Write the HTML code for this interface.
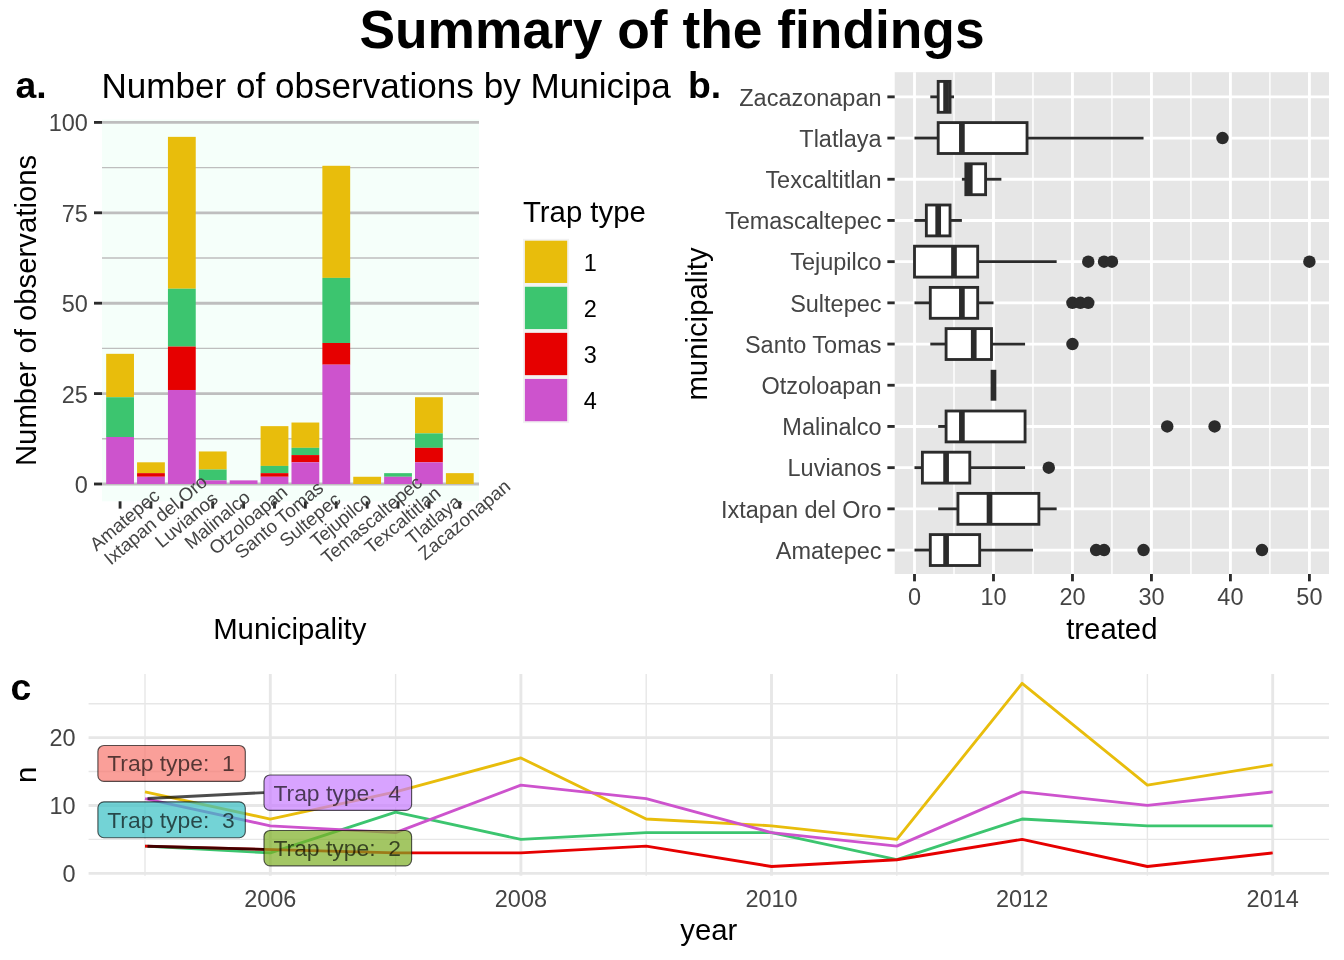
<!DOCTYPE html>
<html lang="en">
<head>
<meta charset="utf-8">
<title>Summary of the findings</title>
<style>
html,body{margin:0;padding:0;background:#fff;}
body{width:1344px;height:960px;overflow:hidden;}
svg{display:block;font-family:"Liberation Sans", Arial, Helvetica, sans-serif;will-change:transform;}
</style>
</head>
<body>
<svg width="1344" height="960" viewBox="0 0 1344 960">
<rect x="0" y="0" width="1344" height="960" fill="#FFFFFF"/>
<text x="672" y="48" font-size="53.33" fill="#000" text-anchor="middle" font-weight="bold">Summary of the findings</text>
<g id="panel-a">
<rect x="102" y="119.5" width="377" height="381.8" fill="#F5FFFA"/>
<line x1="102" y1="438.8" x2="479" y2="438.8" stroke="#BEBEBE" stroke-width="1.42"/>
<line x1="102" y1="348.4" x2="479" y2="348.4" stroke="#BEBEBE" stroke-width="1.42"/>
<line x1="102" y1="258" x2="479" y2="258" stroke="#BEBEBE" stroke-width="1.42"/>
<line x1="102" y1="167.6" x2="479" y2="167.6" stroke="#BEBEBE" stroke-width="1.42"/>
<line x1="102" y1="484" x2="479" y2="484" stroke="#BEBEBE" stroke-width="2.85"/>
<line x1="102" y1="393.6" x2="479" y2="393.6" stroke="#BEBEBE" stroke-width="2.85"/>
<line x1="102" y1="303.2" x2="479" y2="303.2" stroke="#BEBEBE" stroke-width="2.85"/>
<line x1="102" y1="212.8" x2="479" y2="212.8" stroke="#BEBEBE" stroke-width="2.85"/>
<line x1="102" y1="122.4" x2="479" y2="122.4" stroke="#BEBEBE" stroke-width="2.85"/>
<rect x="106.17" y="353.82" width="27.8" height="43.39" fill="#E8BD0C"/>
<rect x="106.17" y="397.22" width="27.8" height="39.78" fill="#3CC56F"/>
<rect x="106.17" y="436.99" width="27.8" height="47.01" fill="#CD53CD"/>
<rect x="137.06" y="462.3" width="27.8" height="10.85" fill="#E8BD0C"/>
<rect x="137.06" y="473.15" width="27.8" height="3.62" fill="#E60000"/>
<rect x="137.06" y="476.77" width="27.8" height="7.23" fill="#CD53CD"/>
<rect x="167.94" y="136.86" width="27.8" height="151.87" fill="#E8BD0C"/>
<rect x="167.94" y="288.74" width="27.8" height="57.86" fill="#3CC56F"/>
<rect x="167.94" y="346.59" width="27.8" height="43.39" fill="#E60000"/>
<rect x="167.94" y="389.98" width="27.8" height="94.02" fill="#CD53CD"/>
<rect x="198.83" y="451.46" width="27.8" height="18.08" fill="#E8BD0C"/>
<rect x="198.83" y="469.54" width="27.8" height="10.85" fill="#3CC56F"/>
<rect x="198.83" y="480.38" width="27.8" height="3.62" fill="#CD53CD"/>
<rect x="229.71" y="480.38" width="27.8" height="3.62" fill="#CD53CD"/>
<rect x="260.6" y="426.14" width="27.8" height="39.78" fill="#E8BD0C"/>
<rect x="260.6" y="465.92" width="27.8" height="7.23" fill="#3CC56F"/>
<rect x="260.6" y="473.15" width="27.8" height="3.62" fill="#E60000"/>
<rect x="260.6" y="476.77" width="27.8" height="7.23" fill="#CD53CD"/>
<rect x="291.48" y="422.53" width="27.8" height="25.31" fill="#E8BD0C"/>
<rect x="291.48" y="447.84" width="27.8" height="7.23" fill="#3CC56F"/>
<rect x="291.48" y="455.07" width="27.8" height="7.23" fill="#E60000"/>
<rect x="291.48" y="462.3" width="27.8" height="21.7" fill="#CD53CD"/>
<rect x="322.37" y="165.79" width="27.8" height="112.1" fill="#E8BD0C"/>
<rect x="322.37" y="277.89" width="27.8" height="65.09" fill="#3CC56F"/>
<rect x="322.37" y="342.98" width="27.8" height="21.7" fill="#E60000"/>
<rect x="322.37" y="364.67" width="27.8" height="119.33" fill="#CD53CD"/>
<rect x="353.25" y="476.77" width="27.8" height="7.23" fill="#E8BD0C"/>
<rect x="384.14" y="473.15" width="27.8" height="3.62" fill="#3CC56F"/>
<rect x="384.14" y="476.77" width="27.8" height="7.23" fill="#CD53CD"/>
<rect x="415.02" y="397.22" width="27.8" height="36.16" fill="#E8BD0C"/>
<rect x="415.02" y="433.38" width="27.8" height="14.46" fill="#3CC56F"/>
<rect x="415.02" y="447.84" width="27.8" height="14.46" fill="#E60000"/>
<rect x="415.02" y="462.3" width="27.8" height="21.7" fill="#CD53CD"/>
<rect x="445.91" y="473.15" width="27.8" height="10.85" fill="#E8BD0C"/>
<line x1="94" y1="484" x2="102" y2="484" stroke="#2B2B2B" stroke-width="2.85"/>
<text x="87.9" y="493" font-size="23.47" fill="#444444" text-anchor="end">0</text>
<line x1="94" y1="393.6" x2="102" y2="393.6" stroke="#2B2B2B" stroke-width="2.85"/>
<text x="87.9" y="402.6" font-size="23.47" fill="#444444" text-anchor="end">25</text>
<line x1="94" y1="303.2" x2="102" y2="303.2" stroke="#2B2B2B" stroke-width="2.85"/>
<text x="87.9" y="312.2" font-size="23.47" fill="#444444" text-anchor="end">50</text>
<line x1="94" y1="212.8" x2="102" y2="212.8" stroke="#2B2B2B" stroke-width="2.85"/>
<text x="87.9" y="221.8" font-size="23.47" fill="#444444" text-anchor="end">75</text>
<line x1="94" y1="122.4" x2="102" y2="122.4" stroke="#2B2B2B" stroke-width="2.85"/>
<text x="87.9" y="131.4" font-size="23.47" fill="#444444" text-anchor="end">100</text>
<line x1="120.07" y1="501.3" x2="120.07" y2="508.63" stroke="#2B2B2B" stroke-width="2.85"/>
<line x1="150.95" y1="501.3" x2="150.95" y2="508.63" stroke="#2B2B2B" stroke-width="2.85"/>
<line x1="181.84" y1="501.3" x2="181.84" y2="508.63" stroke="#2B2B2B" stroke-width="2.85"/>
<line x1="212.72" y1="501.3" x2="212.72" y2="508.63" stroke="#2B2B2B" stroke-width="2.85"/>
<line x1="243.61" y1="501.3" x2="243.61" y2="508.63" stroke="#2B2B2B" stroke-width="2.85"/>
<line x1="274.5" y1="501.3" x2="274.5" y2="508.63" stroke="#2B2B2B" stroke-width="2.85"/>
<line x1="305.38" y1="501.3" x2="305.38" y2="508.63" stroke="#2B2B2B" stroke-width="2.85"/>
<line x1="336.26" y1="501.3" x2="336.26" y2="508.63" stroke="#2B2B2B" stroke-width="2.85"/>
<line x1="367.15" y1="501.3" x2="367.15" y2="508.63" stroke="#2B2B2B" stroke-width="2.85"/>
<line x1="398.04" y1="501.3" x2="398.04" y2="508.63" stroke="#2B2B2B" stroke-width="2.85"/>
<line x1="428.92" y1="501.3" x2="428.92" y2="508.63" stroke="#2B2B2B" stroke-width="2.85"/>
<line x1="459.81" y1="501.3" x2="459.81" y2="508.63" stroke="#2B2B2B" stroke-width="2.85"/>
<text transform="translate(120.07 514.5) rotate(-40)" x="0" y="13.4" font-size="18.67" fill="#444444" text-anchor="middle">Amatepec</text>
<text transform="translate(150.95 514.5) rotate(-40)" x="0" y="13.4" font-size="18.67" fill="#444444" text-anchor="middle">Ixtapan del Oro</text>
<text transform="translate(181.84 514.5) rotate(-40)" x="0" y="13.4" font-size="18.67" fill="#444444" text-anchor="middle">Luvianos</text>
<text transform="translate(212.72 514.5) rotate(-40)" x="0" y="13.4" font-size="18.67" fill="#444444" text-anchor="middle">Malinalco</text>
<text transform="translate(243.61 514.5) rotate(-40)" x="0" y="13.4" font-size="18.67" fill="#444444" text-anchor="middle">Otzoloapan</text>
<text transform="translate(274.5 514.5) rotate(-40)" x="0" y="13.4" font-size="18.67" fill="#444444" text-anchor="middle">Santo Tomas</text>
<text transform="translate(305.38 514.5) rotate(-40)" x="0" y="13.4" font-size="18.67" fill="#444444" text-anchor="middle">Sultepec</text>
<text transform="translate(336.26 514.5) rotate(-40)" x="0" y="13.4" font-size="18.67" fill="#444444" text-anchor="middle">Tejupilco</text>
<text transform="translate(367.15 514.5) rotate(-40)" x="0" y="13.4" font-size="18.67" fill="#444444" text-anchor="middle">Temascaltepec</text>
<text transform="translate(398.04 514.5) rotate(-40)" x="0" y="13.4" font-size="18.67" fill="#444444" text-anchor="middle">Texcaltitlan</text>
<text transform="translate(428.92 514.5) rotate(-40)" x="0" y="13.4" font-size="18.67" fill="#444444" text-anchor="middle">Tlatlaya</text>
<text transform="translate(459.81 514.5) rotate(-40)" x="0" y="13.4" font-size="18.67" fill="#444444" text-anchor="middle">Zacazonapan</text>
<text x="289.8" y="638.8" font-size="29.33" fill="#000" text-anchor="middle">Municipality</text>
<text transform="translate(35.5 310.4) rotate(-90)" font-size="29.33" text-anchor="middle">Number of observations</text>
<text x="101.5" y="97.5" font-size="35.08" fill="#000" text-anchor="start">Number of observations by Municipa</text>
<text x="523" y="222" font-size="29.33" fill="#000" text-anchor="start">Trap type</text>
<rect x="523" y="238.8" width="46.08" height="46.08" fill="#F2F2F2"/>
<rect x="524.9" y="240.7" width="42.28" height="42.28" fill="#E8BD0C"/>
<text x="583.75" y="271.04" font-size="23.47" fill="#000" text-anchor="start">1</text>
<rect x="523" y="284.88" width="46.08" height="46.08" fill="#F2F2F2"/>
<rect x="524.9" y="286.78" width="42.28" height="42.28" fill="#3CC56F"/>
<text x="583.75" y="317.12" font-size="23.47" fill="#000" text-anchor="start">2</text>
<rect x="523" y="330.96" width="46.08" height="46.08" fill="#F2F2F2"/>
<rect x="524.9" y="332.86" width="42.28" height="42.28" fill="#E60000"/>
<text x="583.75" y="363.2" font-size="23.47" fill="#000" text-anchor="start">3</text>
<rect x="523" y="377.04" width="46.08" height="46.08" fill="#F2F2F2"/>
<rect x="524.9" y="378.94" width="42.28" height="42.28" fill="#CD53CD"/>
<text x="583.75" y="409.28" font-size="23.47" fill="#000" text-anchor="start">4</text>
<text x="15.5" y="97.5" font-size="37.33" fill="#000" text-anchor="start" font-weight="bold">a.</text>
</g>
<g id="panel-b">
<rect x="894.7" y="72.2" width="434.3" height="501.8" fill="#E6E6E6"/>
<line x1="953.99" y1="72.2" x2="953.99" y2="574" stroke="#FFFFFF" stroke-width="1.42"/>
<line x1="1032.97" y1="72.2" x2="1032.97" y2="574" stroke="#FFFFFF" stroke-width="1.42"/>
<line x1="1111.95" y1="72.2" x2="1111.95" y2="574" stroke="#FFFFFF" stroke-width="1.42"/>
<line x1="1190.93" y1="72.2" x2="1190.93" y2="574" stroke="#FFFFFF" stroke-width="1.42"/>
<line x1="1269.91" y1="72.2" x2="1269.91" y2="574" stroke="#FFFFFF" stroke-width="1.42"/>
<line x1="914.5" y1="72.2" x2="914.5" y2="574" stroke="#FFFFFF" stroke-width="2.85"/>
<line x1="993.48" y1="72.2" x2="993.48" y2="574" stroke="#FFFFFF" stroke-width="2.85"/>
<line x1="1072.46" y1="72.2" x2="1072.46" y2="574" stroke="#FFFFFF" stroke-width="2.85"/>
<line x1="1151.44" y1="72.2" x2="1151.44" y2="574" stroke="#FFFFFF" stroke-width="2.85"/>
<line x1="1230.42" y1="72.2" x2="1230.42" y2="574" stroke="#FFFFFF" stroke-width="2.85"/>
<line x1="1309.4" y1="72.2" x2="1309.4" y2="574" stroke="#FFFFFF" stroke-width="2.85"/>
<line x1="894.7" y1="96.85" x2="1329" y2="96.85" stroke="#FFFFFF" stroke-width="2.85"/>
<line x1="894.7" y1="138.05" x2="1329" y2="138.05" stroke="#FFFFFF" stroke-width="2.85"/>
<line x1="894.7" y1="179.25" x2="1329" y2="179.25" stroke="#FFFFFF" stroke-width="2.85"/>
<line x1="894.7" y1="220.45" x2="1329" y2="220.45" stroke="#FFFFFF" stroke-width="2.85"/>
<line x1="894.7" y1="261.65" x2="1329" y2="261.65" stroke="#FFFFFF" stroke-width="2.85"/>
<line x1="894.7" y1="302.85" x2="1329" y2="302.85" stroke="#FFFFFF" stroke-width="2.85"/>
<line x1="894.7" y1="344.05" x2="1329" y2="344.05" stroke="#FFFFFF" stroke-width="2.85"/>
<line x1="894.7" y1="385.25" x2="1329" y2="385.25" stroke="#FFFFFF" stroke-width="2.85"/>
<line x1="894.7" y1="426.45" x2="1329" y2="426.45" stroke="#FFFFFF" stroke-width="2.85"/>
<line x1="894.7" y1="467.65" x2="1329" y2="467.65" stroke="#FFFFFF" stroke-width="2.85"/>
<line x1="894.7" y1="508.85" x2="1329" y2="508.85" stroke="#FFFFFF" stroke-width="2.85"/>
<line x1="894.7" y1="550.05" x2="1329" y2="550.05" stroke="#FFFFFF" stroke-width="2.85"/>
<line x1="930.3" y1="96.85" x2="938.19" y2="96.85" stroke="#2B2B2B" stroke-width="2.85"/>
<line x1="950.04" y1="96.85" x2="953.99" y2="96.85" stroke="#2B2B2B" stroke-width="2.85"/>
<rect x="938.19" y="81.4" width="11.85" height="30.9" fill="#FFFFFF" stroke="#2B2B2B" stroke-width="2.85"/>
<line x1="946.09" y1="81.4" x2="946.09" y2="112.3" stroke="#2B2B2B" stroke-width="5.69"/>
<line x1="887.37" y1="96.85" x2="894.7" y2="96.85" stroke="#2B2B2B" stroke-width="2.85"/>
<text x="881.5" y="105.65" font-size="23.47" fill="#444444" text-anchor="end">Zacazonapan</text>
<circle cx="1222.52" cy="138.05" r="6.25" fill="#2B2B2B"/>
<line x1="914.5" y1="138.05" x2="938.19" y2="138.05" stroke="#2B2B2B" stroke-width="2.85"/>
<line x1="1027.05" y1="138.05" x2="1143.54" y2="138.05" stroke="#2B2B2B" stroke-width="2.85"/>
<rect x="938.19" y="122.6" width="88.85" height="30.9" fill="#FFFFFF" stroke="#2B2B2B" stroke-width="2.85"/>
<line x1="961.89" y1="122.6" x2="961.89" y2="153.5" stroke="#2B2B2B" stroke-width="5.69"/>
<line x1="887.37" y1="138.05" x2="894.7" y2="138.05" stroke="#2B2B2B" stroke-width="2.85"/>
<text x="881.5" y="146.85" font-size="23.47" fill="#444444" text-anchor="end">Tlatlaya</text>
<line x1="961.89" y1="179.25" x2="965.84" y2="179.25" stroke="#2B2B2B" stroke-width="2.85"/>
<line x1="985.58" y1="179.25" x2="1001.38" y2="179.25" stroke="#2B2B2B" stroke-width="2.85"/>
<rect x="965.84" y="163.8" width="19.75" height="30.9" fill="#FFFFFF" stroke="#2B2B2B" stroke-width="2.85"/>
<line x1="969.79" y1="163.8" x2="969.79" y2="194.7" stroke="#2B2B2B" stroke-width="5.69"/>
<line x1="887.37" y1="179.25" x2="894.7" y2="179.25" stroke="#2B2B2B" stroke-width="2.85"/>
<text x="881.5" y="188.05" font-size="23.47" fill="#444444" text-anchor="end">Texcaltitlan</text>
<line x1="914.5" y1="220.45" x2="926.35" y2="220.45" stroke="#2B2B2B" stroke-width="2.85"/>
<line x1="950.04" y1="220.45" x2="961.89" y2="220.45" stroke="#2B2B2B" stroke-width="2.85"/>
<rect x="926.35" y="205" width="23.69" height="30.9" fill="#FFFFFF" stroke="#2B2B2B" stroke-width="2.85"/>
<line x1="938.19" y1="205" x2="938.19" y2="235.9" stroke="#2B2B2B" stroke-width="5.69"/>
<line x1="887.37" y1="220.45" x2="894.7" y2="220.45" stroke="#2B2B2B" stroke-width="2.85"/>
<text x="881.5" y="229.25" font-size="23.47" fill="#444444" text-anchor="end">Temascaltepec</text>
<circle cx="1088.26" cy="261.65" r="6.25" fill="#2B2B2B"/>
<circle cx="1104.05" cy="261.65" r="6.25" fill="#2B2B2B"/>
<circle cx="1111.95" cy="261.65" r="6.25" fill="#2B2B2B"/>
<circle cx="1309.4" cy="261.65" r="6.25" fill="#2B2B2B"/>
<line x1="977.68" y1="261.65" x2="1056.66" y2="261.65" stroke="#2B2B2B" stroke-width="2.85"/>
<rect x="914.5" y="246.2" width="63.18" height="30.9" fill="#FFFFFF" stroke="#2B2B2B" stroke-width="2.85"/>
<line x1="953.99" y1="246.2" x2="953.99" y2="277.1" stroke="#2B2B2B" stroke-width="5.69"/>
<line x1="887.37" y1="261.65" x2="894.7" y2="261.65" stroke="#2B2B2B" stroke-width="2.85"/>
<text x="881.5" y="270.45" font-size="23.47" fill="#444444" text-anchor="end">Tejupilco</text>
<circle cx="1072.46" cy="302.85" r="6.25" fill="#2B2B2B"/>
<circle cx="1080.36" cy="302.85" r="6.25" fill="#2B2B2B"/>
<circle cx="1088.26" cy="302.85" r="6.25" fill="#2B2B2B"/>
<line x1="914.5" y1="302.85" x2="930.3" y2="302.85" stroke="#2B2B2B" stroke-width="2.85"/>
<line x1="977.68" y1="302.85" x2="993.48" y2="302.85" stroke="#2B2B2B" stroke-width="2.85"/>
<rect x="930.3" y="287.4" width="47.39" height="30.9" fill="#FFFFFF" stroke="#2B2B2B" stroke-width="2.85"/>
<line x1="961.89" y1="287.4" x2="961.89" y2="318.3" stroke="#2B2B2B" stroke-width="5.69"/>
<line x1="887.37" y1="302.85" x2="894.7" y2="302.85" stroke="#2B2B2B" stroke-width="2.85"/>
<text x="881.5" y="311.65" font-size="23.47" fill="#444444" text-anchor="end">Sultepec</text>
<circle cx="1072.46" cy="344.05" r="6.25" fill="#2B2B2B"/>
<line x1="930.3" y1="344.05" x2="946.09" y2="344.05" stroke="#2B2B2B" stroke-width="2.85"/>
<line x1="991.51" y1="344.05" x2="1025.07" y2="344.05" stroke="#2B2B2B" stroke-width="2.85"/>
<rect x="946.09" y="328.6" width="45.41" height="30.9" fill="#FFFFFF" stroke="#2B2B2B" stroke-width="2.85"/>
<line x1="973.74" y1="328.6" x2="973.74" y2="359.5" stroke="#2B2B2B" stroke-width="5.69"/>
<line x1="887.37" y1="344.05" x2="894.7" y2="344.05" stroke="#2B2B2B" stroke-width="2.85"/>
<text x="881.5" y="352.85" font-size="23.47" fill="#444444" text-anchor="end">Santo Tomas</text>
<rect x="993.48" y="369.8" width="0" height="30.9" fill="#FFFFFF" stroke="#2B2B2B" stroke-width="2.85"/>
<line x1="993.48" y1="369.8" x2="993.48" y2="400.7" stroke="#2B2B2B" stroke-width="5.69"/>
<line x1="887.37" y1="385.25" x2="894.7" y2="385.25" stroke="#2B2B2B" stroke-width="2.85"/>
<text x="881.5" y="394.05" font-size="23.47" fill="#444444" text-anchor="end">Otzoloapan</text>
<circle cx="1167.24" cy="426.45" r="6.25" fill="#2B2B2B"/>
<circle cx="1214.62" cy="426.45" r="6.25" fill="#2B2B2B"/>
<line x1="938.19" y1="426.45" x2="946.09" y2="426.45" stroke="#2B2B2B" stroke-width="2.85"/>
<rect x="946.09" y="411" width="78.98" height="30.9" fill="#FFFFFF" stroke="#2B2B2B" stroke-width="2.85"/>
<line x1="961.89" y1="411" x2="961.89" y2="441.9" stroke="#2B2B2B" stroke-width="5.69"/>
<line x1="887.37" y1="426.45" x2="894.7" y2="426.45" stroke="#2B2B2B" stroke-width="2.85"/>
<text x="881.5" y="435.25" font-size="23.47" fill="#444444" text-anchor="end">Malinalco</text>
<circle cx="1048.77" cy="467.65" r="6.25" fill="#2B2B2B"/>
<line x1="914.5" y1="467.65" x2="922.4" y2="467.65" stroke="#2B2B2B" stroke-width="2.85"/>
<line x1="969.79" y1="467.65" x2="1025.07" y2="467.65" stroke="#2B2B2B" stroke-width="2.85"/>
<rect x="922.4" y="452.2" width="47.39" height="30.9" fill="#FFFFFF" stroke="#2B2B2B" stroke-width="2.85"/>
<line x1="946.09" y1="452.2" x2="946.09" y2="483.1" stroke="#2B2B2B" stroke-width="5.69"/>
<line x1="887.37" y1="467.65" x2="894.7" y2="467.65" stroke="#2B2B2B" stroke-width="2.85"/>
<text x="881.5" y="476.45" font-size="23.47" fill="#444444" text-anchor="end">Luvianos</text>
<line x1="938.19" y1="508.85" x2="957.94" y2="508.85" stroke="#2B2B2B" stroke-width="2.85"/>
<line x1="1038.89" y1="508.85" x2="1056.66" y2="508.85" stroke="#2B2B2B" stroke-width="2.85"/>
<rect x="957.94" y="493.4" width="80.95" height="30.9" fill="#FFFFFF" stroke="#2B2B2B" stroke-width="2.85"/>
<line x1="989.53" y1="493.4" x2="989.53" y2="524.3" stroke="#2B2B2B" stroke-width="5.69"/>
<line x1="887.37" y1="508.85" x2="894.7" y2="508.85" stroke="#2B2B2B" stroke-width="2.85"/>
<text x="881.5" y="517.65" font-size="23.47" fill="#444444" text-anchor="end">Ixtapan del Oro</text>
<circle cx="1096.15" cy="550.05" r="6.25" fill="#2B2B2B"/>
<circle cx="1104.05" cy="550.05" r="6.25" fill="#2B2B2B"/>
<circle cx="1143.54" cy="550.05" r="6.25" fill="#2B2B2B"/>
<circle cx="1262.01" cy="550.05" r="6.25" fill="#2B2B2B"/>
<line x1="914.5" y1="550.05" x2="930.3" y2="550.05" stroke="#2B2B2B" stroke-width="2.85"/>
<line x1="979.66" y1="550.05" x2="1032.97" y2="550.05" stroke="#2B2B2B" stroke-width="2.85"/>
<rect x="930.3" y="534.6" width="49.36" height="30.9" fill="#FFFFFF" stroke="#2B2B2B" stroke-width="2.85"/>
<line x1="946.09" y1="534.6" x2="946.09" y2="565.5" stroke="#2B2B2B" stroke-width="5.69"/>
<line x1="887.37" y1="550.05" x2="894.7" y2="550.05" stroke="#2B2B2B" stroke-width="2.85"/>
<text x="881.5" y="558.85" font-size="23.47" fill="#444444" text-anchor="end">Amatepec</text>
<line x1="914.5" y1="574" x2="914.5" y2="581.33" stroke="#2B2B2B" stroke-width="2.85"/>
<text x="914.5" y="604.8" font-size="23.47" fill="#444444" text-anchor="middle">0</text>
<line x1="993.48" y1="574" x2="993.48" y2="581.33" stroke="#2B2B2B" stroke-width="2.85"/>
<text x="993.48" y="604.8" font-size="23.47" fill="#444444" text-anchor="middle">10</text>
<line x1="1072.46" y1="574" x2="1072.46" y2="581.33" stroke="#2B2B2B" stroke-width="2.85"/>
<text x="1072.46" y="604.8" font-size="23.47" fill="#444444" text-anchor="middle">20</text>
<line x1="1151.44" y1="574" x2="1151.44" y2="581.33" stroke="#2B2B2B" stroke-width="2.85"/>
<text x="1151.44" y="604.8" font-size="23.47" fill="#444444" text-anchor="middle">30</text>
<line x1="1230.42" y1="574" x2="1230.42" y2="581.33" stroke="#2B2B2B" stroke-width="2.85"/>
<text x="1230.42" y="604.8" font-size="23.47" fill="#444444" text-anchor="middle">40</text>
<line x1="1309.4" y1="574" x2="1309.4" y2="581.33" stroke="#2B2B2B" stroke-width="2.85"/>
<text x="1309.4" y="604.8" font-size="23.47" fill="#444444" text-anchor="middle">50</text>
<text x="1111.85" y="638.5" font-size="29.33" fill="#000" text-anchor="middle">treated</text>
<text transform="translate(706.5 324) rotate(-90)" font-size="29.33" text-anchor="middle">municipality</text>
<text x="687.9" y="97.5" font-size="37.33" fill="#000" text-anchor="start" font-weight="bold">b.</text>
</g>
<g id="panel-c">
<line x1="88.6" y1="839.38" x2="1329" y2="839.38" stroke="#E7E7E7" stroke-width="1.42"/>
<line x1="88.6" y1="771.52" x2="1329" y2="771.52" stroke="#E7E7E7" stroke-width="1.42"/>
<line x1="88.6" y1="703.67" x2="1329" y2="703.67" stroke="#E7E7E7" stroke-width="1.42"/>
<line x1="145" y1="674" x2="145" y2="875.7" stroke="#E7E7E7" stroke-width="1.42"/>
<line x1="395.6" y1="674" x2="395.6" y2="875.7" stroke="#E7E7E7" stroke-width="1.42"/>
<line x1="646.2" y1="674" x2="646.2" y2="875.7" stroke="#E7E7E7" stroke-width="1.42"/>
<line x1="896.8" y1="674" x2="896.8" y2="875.7" stroke="#E7E7E7" stroke-width="1.42"/>
<line x1="1147.4" y1="674" x2="1147.4" y2="875.7" stroke="#E7E7E7" stroke-width="1.42"/>
<line x1="88.6" y1="873.3" x2="1329" y2="873.3" stroke="#E7E7E7" stroke-width="2.85"/>
<line x1="88.6" y1="805.45" x2="1329" y2="805.45" stroke="#E7E7E7" stroke-width="2.85"/>
<line x1="88.6" y1="737.6" x2="1329" y2="737.6" stroke="#E7E7E7" stroke-width="2.85"/>
<line x1="270.3" y1="674" x2="270.3" y2="875.7" stroke="#E7E7E7" stroke-width="2.85"/>
<line x1="520.9" y1="674" x2="520.9" y2="875.7" stroke="#E7E7E7" stroke-width="2.85"/>
<line x1="771.5" y1="674" x2="771.5" y2="875.7" stroke="#E7E7E7" stroke-width="2.85"/>
<line x1="1022.1" y1="674" x2="1022.1" y2="875.7" stroke="#E7E7E7" stroke-width="2.85"/>
<line x1="1272.7" y1="674" x2="1272.7" y2="875.7" stroke="#E7E7E7" stroke-width="2.85"/>
<polyline points="145,791.88 270.3,819.02 395.6,791.88 520.9,757.95 646.2,819.02 771.5,825.8 896.8,839.38 1022.1,683.32 1147.4,785.09 1272.7,764.74" fill="none" stroke="#E8BD0C" stroke-width="2.85" stroke-linejoin="round"/>
<polyline points="145,846.16 270.3,852.94 395.6,812.23 520.9,839.38 646.2,832.59 771.5,832.59 896.8,859.73 1022.1,819.02 1147.4,825.8 1272.7,825.8" fill="none" stroke="#3CC56F" stroke-width="2.85" stroke-linejoin="round"/>
<polyline points="145,846.16 395.6,852.94 520.9,852.94 646.2,846.16 771.5,866.51 896.8,859.73 1022.1,839.38 1147.4,866.51 1272.7,852.94" fill="none" stroke="#E60000" stroke-width="2.85" stroke-linejoin="round"/>
<polyline points="145,798.66 270.3,825.8 395.6,832.59 520.9,785.09 646.2,798.66 771.5,832.59 896.8,846.16 1022.1,791.88 1147.4,805.45 1272.7,791.88" fill="none" stroke="#CD53CD" stroke-width="2.85" stroke-linejoin="round"/>
<line x1="147.5" y1="846.26" x2="264" y2="849.4" stroke="#000000" stroke-width="2.85" stroke-opacity="0.7"/>
<line x1="147.5" y1="798.5" x2="264" y2="792.6" stroke="#000000" stroke-width="2.85" stroke-opacity="0.7"/>
<rect x="97.9" y="745.5" width="147.4" height="35.9" rx="6" ry="6" fill="#F8766D" fill-opacity="0.7" stroke="#000" stroke-opacity="0.65" stroke-width="1.15"/>
<text x="171" y="771.25" font-size="22.88" fill="#000" text-anchor="middle" fill-opacity="0.66" xml:space="preserve">Trap type:  1</text>
<rect x="264" y="830.5" width="147.6" height="35.3" rx="6" ry="6" fill="#7CAE22" fill-opacity="0.7" stroke="#000" stroke-opacity="0.65" stroke-width="1.15"/>
<text x="337.2" y="855.95" font-size="22.88" fill="#000" text-anchor="middle" fill-opacity="0.66" xml:space="preserve">Trap type:  2</text>
<rect x="97.9" y="801.8" width="147.4" height="35.9" rx="6" ry="6" fill="#38C0C4" fill-opacity="0.7" stroke="#000" stroke-opacity="0.65" stroke-width="1.15"/>
<text x="171" y="827.55" font-size="22.88" fill="#000" text-anchor="middle" fill-opacity="0.66" xml:space="preserve">Trap type:  3</text>
<rect x="264" y="775" width="147.6" height="35.4" rx="6" ry="6" fill="#C77CFF" fill-opacity="0.7" stroke="#000" stroke-opacity="0.65" stroke-width="1.15"/>
<text x="337.2" y="800.5" font-size="22.88" fill="#000" text-anchor="middle" fill-opacity="0.66" xml:space="preserve">Trap type:  4</text>
<text x="75.5" y="882" font-size="23.47" fill="#444444" text-anchor="end">0</text>
<text x="75.5" y="814.15" font-size="23.47" fill="#444444" text-anchor="end">10</text>
<text x="75.5" y="746.3" font-size="23.47" fill="#444444" text-anchor="end">20</text>
<text x="270.3" y="906.5" font-size="23.47" fill="#444444" text-anchor="middle">2006</text>
<text x="520.9" y="906.5" font-size="23.47" fill="#444444" text-anchor="middle">2008</text>
<text x="771.5" y="906.5" font-size="23.47" fill="#444444" text-anchor="middle">2010</text>
<text x="1022.1" y="906.5" font-size="23.47" fill="#444444" text-anchor="middle">2012</text>
<text x="1272.7" y="906.5" font-size="23.47" fill="#444444" text-anchor="middle">2014</text>
<text x="708.8" y="940" font-size="29.33" fill="#000" text-anchor="middle">year</text>
<text transform="translate(35.5 774.85) rotate(-90)" font-size="29.33" text-anchor="middle">n</text>
<text x="10.5" y="700" font-size="37.33" fill="#000" text-anchor="start" font-weight="bold">c</text>
</g>
</svg>
</body>
</html>
